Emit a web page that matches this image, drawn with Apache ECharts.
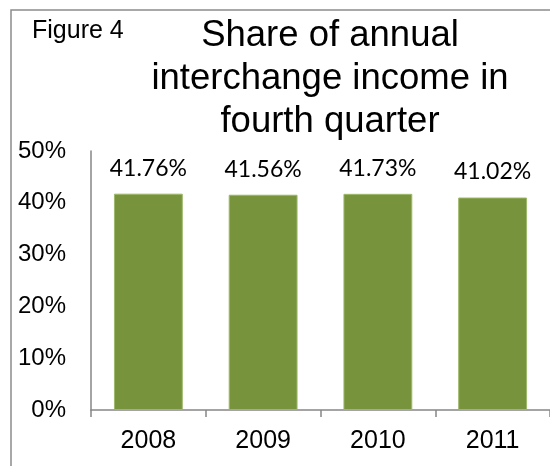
<!DOCTYPE html>
<html>
<head>
<meta charset="utf-8">
<script src="https://cdn.jsdelivr.net/npm/echarts@6/dist/echarts.min.js"></script>
<style>
  html, body { margin: 0; padding: 0; background: #fff; }
  #chart { width: 550px; height: 466px; }
</style>
</head>
<body>
<div id="chart"></div>
<script>
// Share of annual interchange income earned in Q4, by year (percent)
const years = ['2008', '2009', '2010', '2011'];
const q4Share = [41.76, 41.56, 41.73, 41.02];
const yTicks = { min: 0, max: 50, step: 10 };

const chart = echarts.init(document.getElementById('chart'), null, { renderer: 'canvas' });

const axisGray = '#868686';
const arial = '"Liberation Sans", Arial, sans-serif';

chart.setOption({
  animation: false,
  backgroundColor: '#ffffff',
  graphic: [
    {
      // frame around the figure
      type: 'rect',
      shape: { x: 11, y: 10, width: 700, height: 600 },
      style: { fill: 'none', stroke: '#8c8c8c', lineWidth: 1.5 },
      silent: true
    },
    {
      type: 'text',
      left: 32,
      top: 19,
      style: { text: 'Figure 4', font: '25px ' + arial, fill: '#000' }
    },
    {
      type: 'text',
      x: 330,
      y: 14,
      style: {
        text: 'Share of annual\ninterchange income in\nfourth quarter',
        font: '36.5px ' + arial,
        lineHeight: 43,
        align: 'center',
        verticalAlign: 'top',
        fill: '#000'
      }
    }
  ],
  grid: { left: 91, right: -4, top: 151, bottom: 56, containLabel: false },
  xAxis: {
    type: 'category',
    data: years,
    boundaryGap: true,
    axisLine: { lineStyle: { color: axisGray, width: 1.5 } },
    axisTick: { show: true, length: 7, inside: false, lineStyle: { color: axisGray, width: 1.5 } },
    axisLabel: { color: '#000', fontFamily: arial, fontSize: 25, margin: 19 },
    splitLine: { show: false }
  },
  yAxis: {
    type: 'value',
    min: yTicks.min,
    max: yTicks.max,
    interval: yTicks.step,
    axisLine: { show: true, lineStyle: { color: axisGray, width: 1.5 } },
    axisTick: { show: false },
    axisLabel: { color: '#000', fontFamily: arial, fontSize: 24, margin: 25, formatter: '{value}%' },
    splitLine: { show: false }
  },
  series: [{
    type: 'bar',
    data: q4Share,
    barWidth: '60%',
    itemStyle: { color: '#77933c', borderColor: '#9db86a', borderWidth: 1 },
    label: {
      show: true,
      position: 'top',
      distance: 14,
      color: '#000',
      fontFamily: 'Lato, "Open Sans", sans-serif',
      fontSize: 23,
      formatter: p => p.value.toFixed(2) + '%'
    }
  }]
});
</script>
</body>
</html>
